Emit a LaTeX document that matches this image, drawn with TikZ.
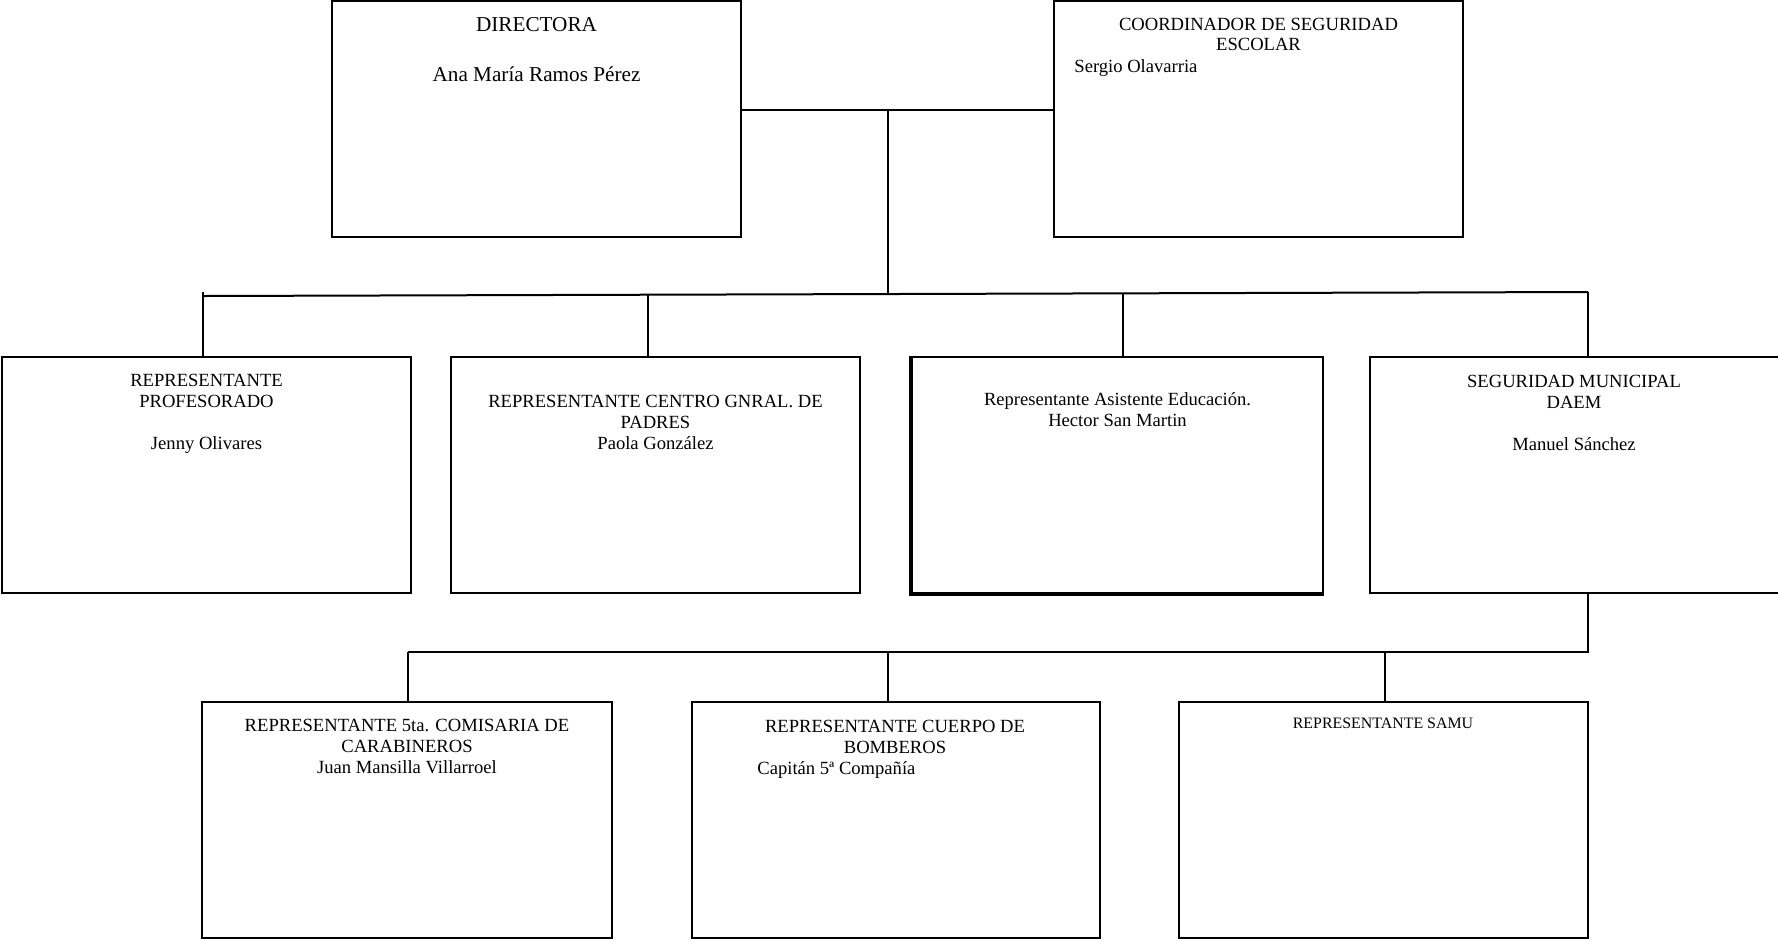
\documentclass[tikz,border=0pt]{standalone}
\usepackage{fontspec}
\setmainfont{Liberation Serif}
\begin{document}
\begin{tikzpicture}[x=0.5pt,y=-0.5pt,
  box/.style={draw,line width=1pt,inner sep=0pt,minimum width=204.5pt,minimum height=118pt},
  conn/.style={line width=1pt},
  txt/.style={inner sep=0pt,align=center,anchor=north,font=\fontsize{9.3}{10.5}\selectfont},
  ltxt/.style={inner sep=0pt,anchor=base west,font=\fontsize{9.3}{10.5}\selectfont}]
\useasboundingbox (0,0) rectangle (1778,939);
% boxes
\node[box] (dir) at (536.5,119) {};
\node[box] (coord) at (1258.5,119) {};
\node[box] (prof) at (206.5,475) {};
\node[box] (pad) at (655.5,475) {};
\node[box,minimum width=205.5pt] (asis) at (1117.5,475) {};
\node[box,minimum width=205.5pt] (seg) at (1575.5,475) {};
\node[box,minimum width=205pt] (cara) at (407,820) {};
\node[box,minimum width=204pt] (bomb) at (896,820) {};
\node[box] (samu) at (1383.5,820) {};
\draw[line width=1.6pt] (asis.north west) -- (asis.south west) -- (asis.south east);
% texts
\node[txt,font=\fontsize{10.6}{25}\selectfont] (tdir) at (536.5,17.3) {DIRECTORA\\Ana María Ramos Pérez};
\node[txt,font=\fontsize{9.3}{10.2}\selectfont] (tcoord) at (1258.5,17.3) {COORDINADOR DE SEGURIDAD\\ESCOLAR};
\node[ltxt] (tsergio) at (1074,72) {Sergio Olavarria};
\node[txt] (tprof) at (206.5,373.3) {REPRESENTANTE\\PROFESORADO\\[10.5pt]Jenny Olivares};
\node[txt] (tpad) at (655.5,395) {REPRESENTANTE CENTRO GNRAL. DE\\PADRES\\Paola González};
\node[txt] (tasis) at (1117.5,392.5) {Representante Asistente Educación.\\Hector San Martin};
\node[txt] (tseg) at (1574,374.3) {SEGURIDAD MUNICIPAL\\DAEM\\[10.5pt]Manuel Sánchez};
\node[txt] (tcara) at (407,718.3) {REPRESENTANTE 5ta. COMISARIA DE\\CARABINEROS\\Juan Mansilla Villarroel};
\node[txt] (tbomb) at (895,719.5) {REPRESENTANTE CUERPO DE\\BOMBEROS};
\node[ltxt] (tcap) at (757,774) {Capitán 5ª Compañía};
\node[txt,font=\fontsize{7.95}{9}\selectfont] (tsamu) at (1383,717.3) {REPRESENTANTE SAMU};
% connectors top
\coordinate (j1) at (888,110);
\coordinate (jb) at (888,294.5);
\draw[conn] (dir.east |- j1) -- (coord.west |- j1);
\draw[conn] (j1) -- (jb);
\coordinate (bl) at (203,296);
\coordinate (blt) at (203,292);
\coordinate (br) at (1588,292);
\coordinate (s2) at (648,294.7);
\coordinate (s3) at (1123,293.3);
\draw[conn] (bl) -- (br);
\draw[conn] (blt) -- (blt |- prof.north);
\draw[conn] (s2) -- (s2 |- pad.north);
\draw[conn] (s3) -- (s3 |- asis.north);
\draw[conn] (br) -- (br |- seg.north);
% connectors bottom
\coordinate (c3r) at (1588,652);
\coordinate (c3l) at (408,652);
\coordinate (c3m) at (888,652);
\coordinate (c3s) at (1385,652);
\draw[conn] (seg.south -| c3r) -- (c3r) -- (c3l);
\draw[conn] (c3l) -- (c3l |- cara.north);
\draw[conn] (c3m) -- (c3m |- bomb.north);
\draw[conn] (c3s) -- (c3s |- samu.north);
\end{tikzpicture}
\end{document}
